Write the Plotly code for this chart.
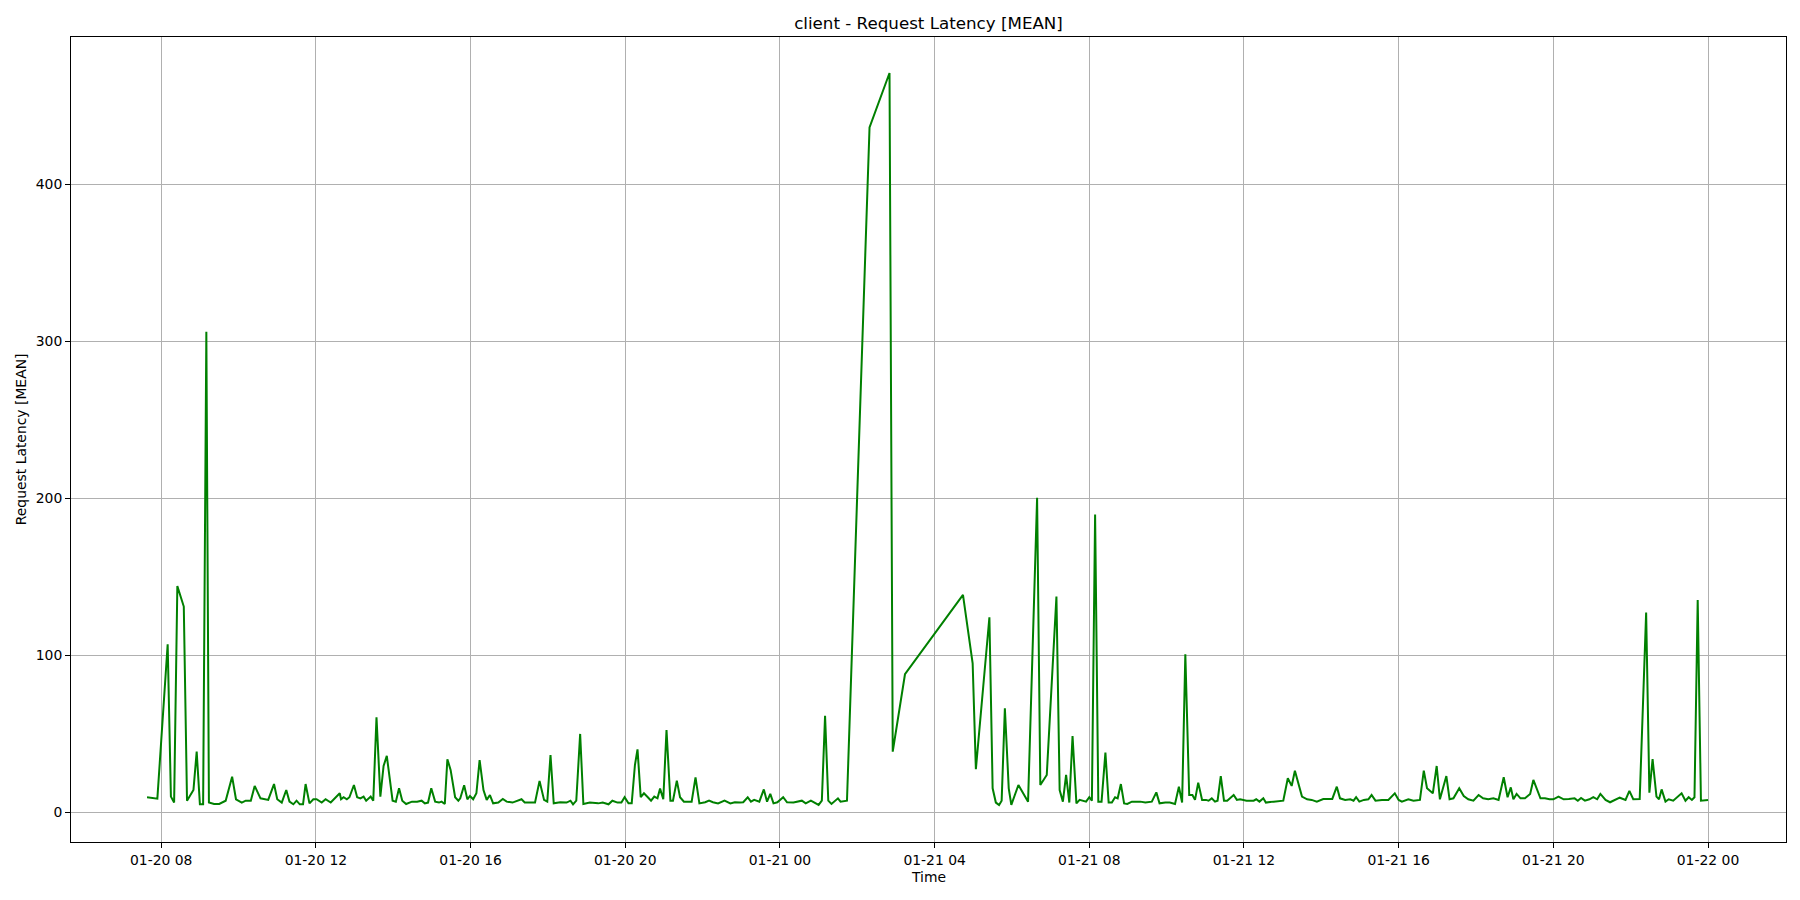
import pandas as pd
import plotly.graph_objects as go

# Minutes since 2024-01-20 08:00 for each sample, and mean request latency
minutes_since_0800 = [
    -22, -6, 10, 15, 20, 25, 35, 40, 50, 55, 60, 65, 70, 74, 82, 90, 100, 110, 116, 125,
    131, 139, 145, 154, 166, 175, 180, 187, 194, 199, 205, 210, 215, 220, 224, 230, 236, 241, 249, 255,
    263, 270, 277,
    279, 283, 288, 292, 299, 304, 309, 314, 318, 325, 329, 334, 340, 345, 350, 359, 364, 369, 374, 380,
    389, 397, 404, 409, 414, 419, 425, 431, 435, 440, 444, 449, 456, 461, 464, 470, 475, 479, 484, 489,
    494, 500, 505, 510, 515, 523, 530, 536, 545, 559, 564, 580, 587,
    594, 599, 604, 609, 619, 629, 635, 639, 644, 650, 655, 665, 678, 685, 694, 700, 708, 714, 719, 725,
    730, 735, 739, 744, 749, 755, 760, 765, 770, 774, 779, 784, 790, 794, 800, 805, 811, 823, 829, 835,
    844, 850, 856, 864, 874, 883, 890, 898,
    903, 910, 915, 920, 928, 935, 940, 945, 950, 956, 965, 971, 981, 994, 1000, 1008, 1015, 1020, 1025, 1030,
    1035, 1040, 1050, 1054, 1064, 1099, 1130, 1135, 1154,
    1244, 1259, 1264, 1285, 1290, 1295, 1300, 1304, 1309, 1315, 1319, 1330, 1345, 1359, 1364, 1374, 1389, 1394, 1399, 1404,
    1409, 1414, 1420, 1425, 1431, 1435, 1440, 1444, 1449, 1454, 1459, 1465, 1470, 1475, 1480, 1484, 1489, 1494, 1499, 1506,
    1511, 1519,
    1527, 1537, 1544, 1549, 1558, 1565, 1573, 1579, 1584, 1589, 1595, 1600, 1604, 1609, 1615, 1621, 1625, 1630, 1635, 1639,
    1644, 1649, 1654, 1664, 1669, 1674, 1684, 1695, 1699, 1704, 1710, 1714, 1726, 1741, 1748, 1754, 1759, 1770, 1778, 1785,
    1793, 1803, 1817, 1824, 1829,
    1837, 1845, 1850, 1854, 1859, 1866, 1873, 1878, 1884, 1894, 1904, 1914, 1920, 1925, 1935, 1943, 1953, 1959, 1964, 1973,
    1979, 1984, 1994, 1999, 2005, 2014, 2021, 2028, 2036, 2044, 2051, 2059, 2067, 2075, 2083, 2089, 2094, 2098, 2103, 2109,
    2116, 2124, 2129, 2140,
    2147, 2154, 2160, 2168, 2176, 2184, 2193, 2198, 2203, 2209, 2216, 2222, 2228, 2233, 2241, 2248, 2254, 2263, 2272, 2278,
    2284, 2294, 2304, 2309, 2314, 2320, 2324, 2328, 2334, 2339, 2346, 2353, 2359, 2365, 2370, 2375, 2379, 2384, 2389, 2400,
]

latency_mean = [
    9.6, 8.7, 107, 10, 6.2, 144, 131, 7.4, 14.2, 38.6, 5.1, 5.1, 306, 6.2, 5.3, 5.3, 7.4, 22.7, 8.3, 6.2,
    7.4, 7.4, 16.8, 8.9, 7.9, 18, 8.3, 6.2, 14.2, 6.8, 5.1, 7.4, 5.1, 5.1, 18, 5.7, 8.3, 8.3, 6.2, 8.3,
    6.2, 8.9, 12.1,
    8.3, 9.6, 8.3, 9.6, 17.4, 9.6, 8.9, 10, 7.4, 10, 7.4, 60.5, 10, 29.5, 35.9, 7.4, 6.8, 15.3, 7.4, 5.3,
    6.8, 6.8, 7.4, 5.7, 6.2, 15.3, 6.8, 6.2, 6.8, 5.3, 33.8, 27, 9.6, 7.4, 8.9, 17.2, 8.3, 10.4, 8.3, 12.1,
    33.3, 14.2, 7.9, 11, 5.7, 6.2, 8.5, 6.8, 6.2, 8.3, 6.2, 6.2, 20,
    7.9, 6.8, 36.5, 5.7, 6.4, 6.2, 7.4, 5.1, 7.4, 49.9, 5.3, 6.2, 5.7, 6.2, 5.1, 7.4, 6.2, 6.2, 9.6, 5.7,
    5.7, 30.1, 40.1, 9.6, 12.1, 9.6, 7.4, 10, 8.9, 15.1, 8.3, 52.4, 7.4, 7.4, 20.2, 9.6, 6.8, 6.8, 22.3, 5.7,
    6.4, 7.4, 6.4, 5.7, 7.4, 5.7, 6.4, 6.2,
    6.4, 9.6, 6.8, 7.9, 6.8, 14.6, 6.8, 11.7, 5.7, 6.4, 9.6, 6.4, 6.2, 7.4, 5.7, 7.4, 5.7, 4.7, 7.4, 61.4,
    7.4, 5.3, 8.9, 6.8, 7.4, 436, 470.7, 38.6, 87.9,
    138.4, 94.9, 27.4, 124.2, 15.3, 6.2, 4.7, 7.4, 66.2, 15.3, 4.7, 17.4, 6.8, 200.2, 17.4, 23.8, 137.4, 14.2, 6.8, 23.8,
    6.2, 48.6, 5.7, 7.9, 7.4, 6.8, 9.6, 7.4, 189.6, 6.8, 6.8, 38, 6.2, 6.2, 9.6, 8.9, 18, 5.7, 5.3, 6.8,
    6.8, 6.8,
    6.2, 6.8, 12.7, 5.7, 6.2, 6.2, 5.3, 16.3, 6.2, 100.6, 11, 11, 7.9, 18.9, 7.9, 7.9, 7.4, 8.9, 6.8, 7.4,
    23.1, 7.4, 7.4, 11, 7.9, 8.3, 7.4, 7.4, 8.3, 6.8, 8.9, 6.2, 6.8, 7.4, 21.7, 16.8, 26.5, 10, 8.3, 7.9,
    6.8, 8.5, 8.5, 16.3, 8.9,
    7.9, 8.3, 7.4, 9.6, 6.8, 7.9, 8.3, 11, 7.4, 7.9, 7.9, 12.1, 7.9, 6.8, 8.3, 7.4, 7.9, 26.5, 15.3, 12.1,
    29.5, 8.3, 23.1, 8.3, 8.9, 15.3, 10.4, 8.3, 7.4, 11, 8.9, 8.3, 8.9, 7.9, 22.3, 9.6, 15.9, 8.3, 11.7, 8.9,
    8.9, 11.7, 20.6, 8.9,
    8.9, 8.3, 8.3, 10, 8.3, 8.5, 8.9, 7.4, 9.1, 7.4, 8.3, 9.6, 8.3, 11.7, 7.9, 6.4, 7.4, 9.3, 7.9, 13.6,
    8.3, 8.5, 127.2, 12.5, 33.8, 10, 8.3, 14.6, 6.8, 8.3, 7.4, 10, 12.1, 7.4, 9.6, 7.9, 9.6, 135.2, 7.4, 7.9,
]

y_tick_values = [0, 100, 200, 300, 400]
title_text = "client - Request Latency [MEAN]"
x_label = "Time"
y_label = "Request Latency [MEAN]"

base = pd.Timestamp("2024-01-20 08:00")
times = base + pd.to_timedelta(minutes_since_0800, unit="min")

FONT = "DejaVu Sans"
W, H = 1784, 884          # page body has an 8px margin
L, R, T, B = 63, 6, 29, 50
PW, PH = W - L - R, H - T - B

fig = go.Figure()
fig.add_trace(go.Scatter(
    x=times, y=latency_mean, mode="lines",
    line=dict(color="#008000", width=2),
    showlegend=False,
))

axis_common = dict(
    showgrid=True, gridcolor="#b0b0b0", gridwidth=1,
    showline=True, linecolor="black", linewidth=1, mirror=True,
    ticks="outside", ticklen=5, tickwidth=1, tickcolor="black",
    tickfont=dict(family=FONT, size=13.9, color="black"),
    zeroline=False,
)

fig.update_layout(
    width=W, height=H,
    paper_bgcolor="white", plot_bgcolor="white",
    margin=dict(l=L, r=R, t=T, b=B),
    font=dict(family=FONT, color="black"),
    title=dict(text=title_text, x=0.5, xref="paper", y=1 - 15 / H, yref="container",
               xanchor="center", yanchor="middle", font=dict(family=FONT, size=16.7, color="black")),
    xaxis=dict(
        axis_common,
        type="date",
        range=[base + pd.Timedelta(minutes=-140), base + pd.Timedelta(minutes=2521)],
        tick0=base, dtick=4 * 3600 * 1000, tickformat="%m-%d %H",
    ),
    yaxis=dict(
        axis_common,
        range=[-18.9, 493.6],
        tickmode="array", tickvals=y_tick_values,
        ticktext=[str(v) for v in y_tick_values],
    ),
    annotations=[
        dict(text=x_label, xref="paper", yref="paper", x=0.5, y=-35 / PH,
             xanchor="center", yanchor="middle", showarrow=False,
             font=dict(family=FONT, size=13.9, color="black")),
        dict(text=y_label, xref="paper", yref="paper", x=-50.3 / PW, y=0.5,
             xanchor="center", yanchor="middle", showarrow=False, textangle=-90,
             font=dict(family=FONT, size=13.9, color="black")),
    ],
)

fig.write_html("out.html")
